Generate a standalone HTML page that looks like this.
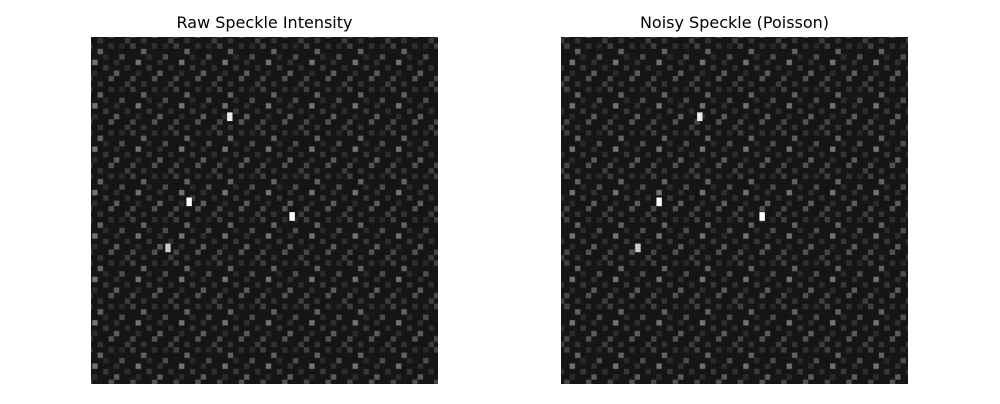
<!DOCTYPE html>
<html>
<head>
<meta charset="utf-8">
<style>
  html,body{margin:0;padding:0;background:#fff;}
  body{width:1000px;height:400px;overflow:hidden;font-family:"DejaVu Sans","Liberation Sans",sans-serif;}
</style>
</head>
<body>
<svg id="chart" width="1000" height="400" viewBox="0 0 1000 400">
  <defs>
    <pattern id="speck" x="0" y="0" width="43.4" height="43.4" patternUnits="userSpaceOnUse">
      <rect width="43.4" height="43.4" fill="#151515"/>
      <rect x="0" y="0" width="5.4" height="5.4" fill="#404040"/>
      <rect x="10.8" y="5.4" width="5.4" height="5.4" fill="#626262"/>
      <rect x="21.7" y="0" width="5.4" height="5.4" fill="#303030"/>
      <rect x="32.5" y="10.8" width="5.4" height="5.4" fill="#4d4d4d"/>
      <rect x="5.4" y="16.3" width="5.4" height="5.4" fill="#727272"/>
      <rect x="16.3" y="21.7" width="5.4" height="5.4" fill="#383838"/>
      <rect x="27.1" y="27.1" width="5.4" height="5.4" fill="#5c5c5c"/>
      <rect x="38" y="21.7" width="5.4" height="5.4" fill="#2e2e2e"/>
      <rect x="0" y="32.5" width="5.4" height="5.4" fill="#464646"/>
      <rect x="10.8" y="38" width="5.4" height="5.4" fill="#333"/>
      <rect x="21.7" y="32.5" width="5.4" height="5.4" fill="#525252"/>
      <rect x="38" y="38" width="5.4" height="5.4" fill="#3c3c3c"/>
      <rect x="16.3" y="10.8" width="5.4" height="5.4" fill="#2a2a2a"/>
      <rect x="32.5" y="0" width="5.4" height="5.4" fill="#282828"/>
      <rect x="5.4" y="27.1" width="5.4" height="5.4" fill="#2b2b2b"/>
      <rect x="27.1" y="16.3" width="5.4" height="5.4" fill="#2f2f2f"/>
    </pattern>
  </defs>
  <text x="264.5" y="28" text-anchor="middle" font-size="16" fill="#000">Raw Speckle Intensity</text>
  <text x="734.5" y="28" text-anchor="middle" font-size="16" fill="#000">Noisy Speckle (Poisson)</text>
  <rect x="91" y="37" width="347" height="347" fill="url(#speck)"/>
  <rect x="561" y="37" width="347" height="347" fill="url(#speck)"/>
  <g id="spots"></g>
</svg>
<script>
// bright speckle locations in image-cell coordinates (64x64 grid)
const spotsX = [25.6, 18.1, 37.1, 14.2];
const spotsY = [14.4, 30.1, 32.8, 38.6];
const spotLevel = [235, 250, 255, 200];

const N = 64;
const panels = [{x0:91, y0:37, name:'raw'}, {x0:561, y0:37, name:'noisy'}];
const size = 347;
const cell = size / N;
const sx = (v, p) => p.x0 + v * cell;
const sy = (v, p) => p.y0 + v * cell;
const g = document.getElementById('spots');
panels.forEach(p => {
  spotsX.forEach((vx, i) => {
    const r = document.createElementNS('http://www.w3.org/2000/svg', 'rect');
    r.setAttribute('x', sx(vx, p) - cell / 2);
    r.setAttribute('y', sy(spotsY[i], p) - cell / 2);
    r.setAttribute('width', cell);
    r.setAttribute('height', cell * 1.6);
    const c = spotLevel[i];
    r.setAttribute('fill', `rgb(${c},${c},${c})`);
    
    
    g.appendChild(r);
  });
});
</script>
</body>
</html>
